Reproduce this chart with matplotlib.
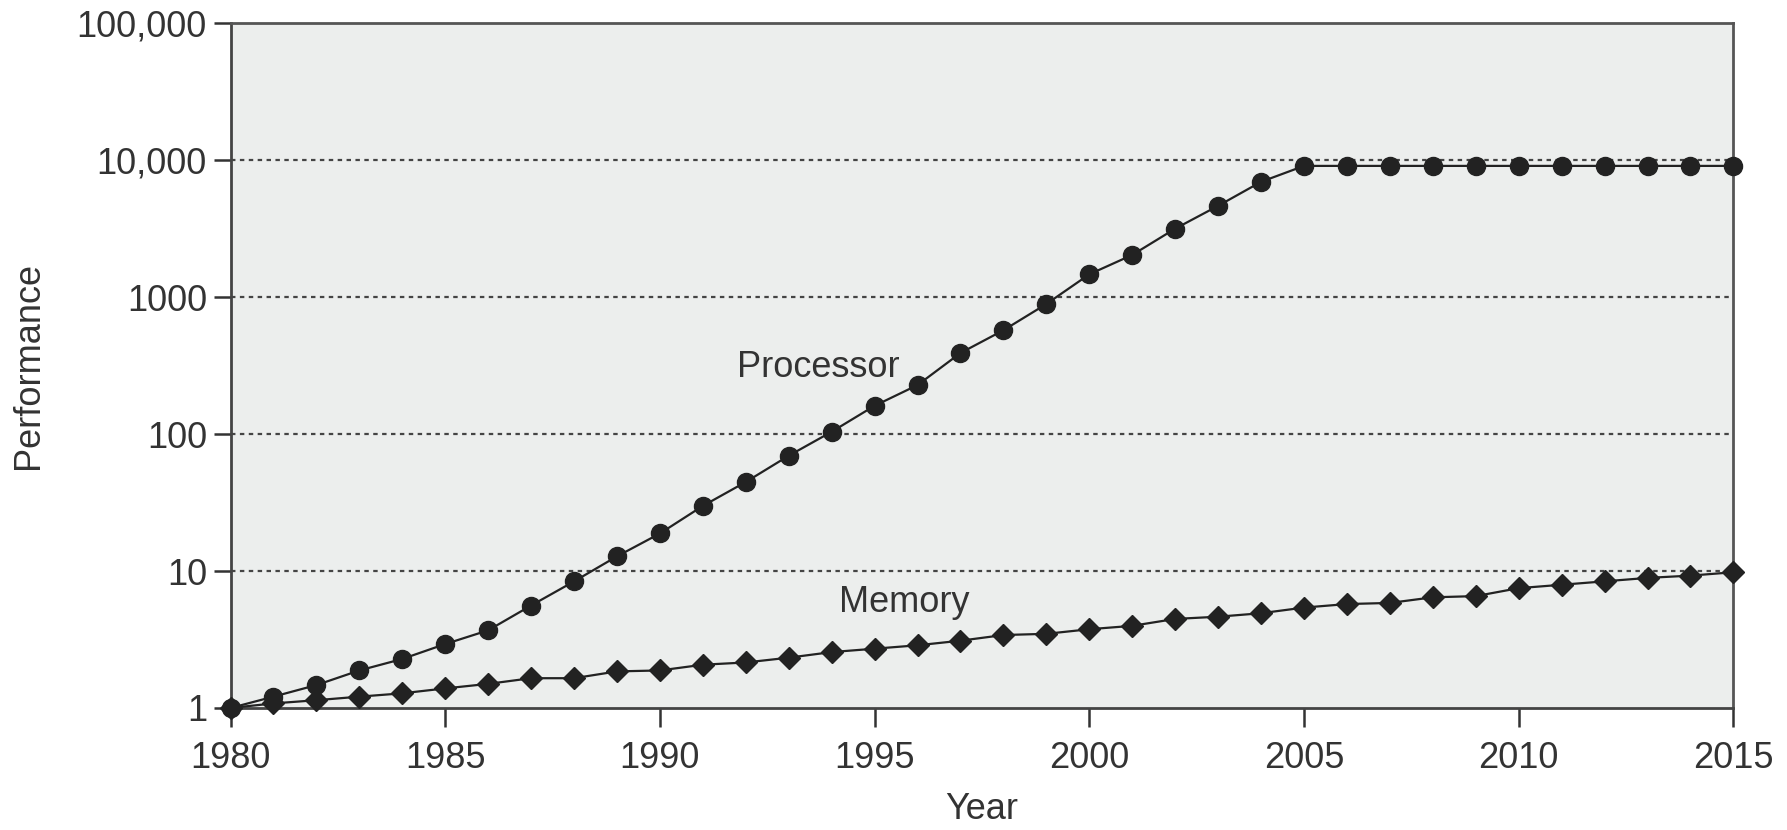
import matplotlib
matplotlib.use("Agg")
import matplotlib.pyplot as plt

plt.rcParams["font.family"] = ["Liberation Sans", "DejaVu Sans"]

years = list(range(1980, 2016))

processor = [1.0, 1.21, 1.47, 1.88, 2.28, 2.93, 3.69, 5.6, 8.4, 12.8,
             18.8, 29.9, 44.7, 69.5, 104, 161, 228, 391, 573, 891,
             1468, 2033, 3162, 4642, 6950, 9085, 9085, 9085, 9085, 9085,
             9085, 9085, 9085, 9085, 9085, 9085]

memory = [1.0, 1.08, 1.14, 1.21, 1.28, 1.39, 1.50, 1.65, 1.65, 1.85,
          1.88, 2.07, 2.15, 2.33, 2.56, 2.71, 2.87, 3.10, 3.41, 3.48,
          3.76, 3.98, 4.47, 4.64, 4.92, 5.41, 5.74, 5.85, 6.43, 6.56,
          7.50, 7.94, 8.41, 8.91, 9.26, 9.8]

x_ticks = [1980, 1985, 1990, 1995, 2000, 2005, 2010, 2015]
y_ticks = [1, 10, 100, 1000, 10000, 100000]
y_labels = ["1", "10", "100", "1000", "10,000", "100,000"]

text_color = "#333333"
line_color = "#222222"
fs = 26

fig = plt.figure(figsize=(17.87, 8.30), dpi=100)
ax = fig.add_axes([0.129, 0.147, 0.841, 0.825])
ax.set_facecolor("#eceeed")

ax.set_yscale("log")
ax.set_xlim(1980, 2015)
ax.set_ylim(1, 100000)

# dotted guide lines at each decade
for v in y_ticks[1:-1]:
    ax.axhline(v, color="#444444", lw=1.6, ls=(0, (2, 2)), zorder=1)

ax.plot(years, processor, color=line_color, lw=1.6, marker="o", ms=13,
        clip_on=False, zorder=3)
ax.plot(years, memory, color=line_color, lw=1.6, marker="D", ms=11.5,
        clip_on=False, zorder=3)

ax.text(1993.7, 304, "Processor", fontsize=fs, color=text_color,
        ha="center", va="center")
ax.text(1995.7, 5.9, "Memory", fontsize=fs, color=text_color,
        ha="center", va="center")

ax.set_xticks(x_ticks)
ax.set_xticklabels([str(t) for t in x_ticks])
ax.set_yticks(y_ticks)
ax.set_yticklabels(y_labels)
ax.minorticks_off()

ax.tick_params(axis="both", labelsize=fs, labelcolor=text_color,
               color="#333333", width=1.8, direction="out")
ax.tick_params(axis="x", length=14, pad=10)
ax.tick_params(axis="y", length=12, pad=5)

for side in ["left", "bottom"]:
    ax.spines[side].set_color("#444444")
    ax.spines[side].set_linewidth(2)
for side in ["top", "right"]:
    ax.spines[side].set_color("#555555")
    ax.spines[side].set_linewidth(2)

ax.set_xlabel("Year", fontsize=fs, color=text_color)
ax.set_ylabel("Performance", fontsize=fs, color=text_color)
ax.xaxis.set_label_coords(0.5, -0.122)
ax.yaxis.set_label_coords(-0.123, 0.5)

fig.savefig("out.png", dpi=100)
